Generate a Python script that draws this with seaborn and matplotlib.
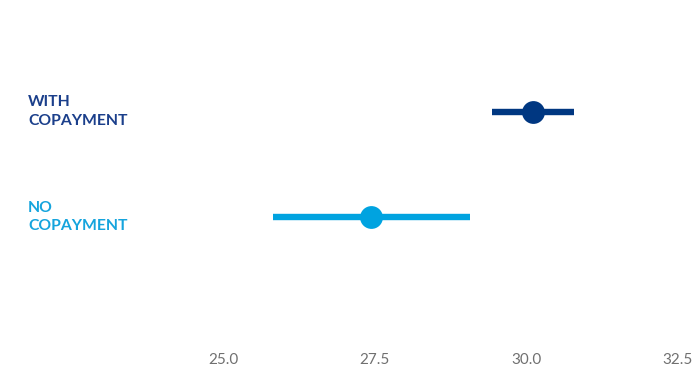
import matplotlib
matplotlib.use("Agg")
import matplotlib.pyplot as plt
import matplotlib.transforms as mtransforms
import seaborn as sns
import pandas as pd

# Data
categories = ["WITH\nCOPAYMENT", "NO\nCOPAYMENT"]
centers = [30.12, 27.44]
lows = [29.44, 25.83]
highs = [30.79, 29.08]
colors = ["#003781", "#00A3E0"]
label_colors = ["#1B3F8B", "#15A4DD"]
xticks = [25.0, 27.5, 30.0, 32.5]

rows = []
for c, lo, m, hi in zip(categories, lows, centers, highs):
    for v in (lo, m, hi):
        rows.append({"group": c, "value": v})
df = pd.DataFrame(rows)

sns.set_theme(style="white")
plt.rcParams["font.family"] = ["Lato", "DejaVu Sans"]

fig = plt.figure(figsize=(7, 3.68), dpi=100)
ax = fig.add_axes([160 / 700, 23 / 368, 530 / 700, 345 / 368])

sns.pointplot(
    data=df, x="value", y="group", hue="group", order=categories,
    hue_order=categories, palette=colors, estimator="median",
    errorbar=("pi", 100), markers="o", markersize=14.4,
    err_kws={"linewidth": 4.6, "solid_capstyle": "butt"},
    linestyles="none", legend=False, ax=ax,
)

ax.set_xlim(25 - (223 - 160) / 60.6, 25 + (690 - 223) / 60.6)
ax.set_ylim(1 + (345 - 217) / 105, -112 / 105)
ax.set_xticks(xticks)
ax.set_xticklabels([f"{t:.1f}" for t in xticks])
ax.set_xlabel("")
ax.set_ylabel("")
for s in ax.spines.values():
    s.set_visible(False)
ax.tick_params(axis="x", length=0, pad=6, labelsize=11, labelcolor="#707070")
ax.tick_params(axis="y", length=0, pad=(160 - 28) * 0.72, labelsize=11.3)
ax.set_yticks(range(len(categories)))
ax.set_yticklabels(categories)
shift = mtransforms.ScaledTranslation(0, 4 / 100, fig.dpi_scale_trans)
for lab, col in zip(ax.get_yticklabels(), label_colors):
    lab.set_ha("left")
    lab.set_color(col)
    lab.set_fontweight("bold")
    lab.set_linespacing(1.45)
    lab.set_transform(lab.get_transform() + shift)
ax.grid(False)

fig.savefig("out.png", dpi=100)
